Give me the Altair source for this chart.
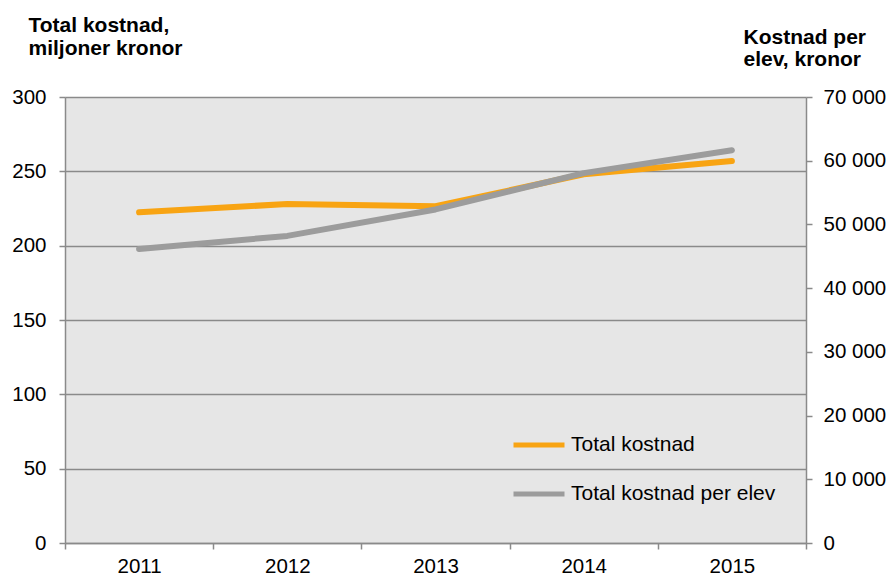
import altair as alt
import pandas as pd

years = ["2011", "2012", "2013", "2014", "2015"]
total_kostnad = [222.5, 228, 226.5, 248, 257]
kostnad_per_elev = [46150, 48200, 52350, 58050, 61650]
left_ticks = [0, 50, 100, 150, 200, 250, 300]
right_ticks = [0, 10000, 20000, 30000, 40000, 50000, 60000, 70000]
series_names = ["Total kostnad", "Total kostnad per elev"]
series_colors = ["#F8A413", "#9C9C9C"]

df = pd.DataFrame({"year": years, "total": total_kostnad, "per_elev": kostnad_per_elev})

FONT = "Liberation Sans"
AXIS_COLOR = "#8A8A8A"

color_scale = alt.Scale(domain=series_names, range=series_colors)

x_enc = alt.X(
    "year:O",
    scale=alt.Scale(paddingInner=0, paddingOuter=0),
    axis=alt.Axis(
        title=None, labelAngle=0, tickBand="extent", tickSize=6,
        labelBaseline="alphabetic", labelPadding=23, labelFontSize=20.5,
        domain=True, grid=False,
    ),
)

left = alt.Chart(df).transform_calculate(serie=f"'{series_names[0]}'").mark_line(
    strokeWidth=6, strokeCap="round", strokeJoin="round"
).encode(
    x=x_enc,
    y=alt.Y(
        "total:Q",
        scale=alt.Scale(domain=[0, 300], nice=False, zero=True),
        axis=alt.Axis(
            values=left_ticks, orient="left", grid=True, gridColor=AXIS_COLOR, gridOpacity=1,
            tickSize=6, labelPadding=13, labelFontSize=20.5,
            title=["Total kostnad,", "miljoner kronor"], titleAngle=0,
            titleX=-37, titleY=-66, titleAlign="left", titleBaseline="alphabetic",
            titleFontSize=21, titleFontWeight="bold", titleLineHeight=23,
        ),
    ),
    color=alt.Color("serie:N", scale=color_scale, legend=alt.Legend(title=None)),
)

right = alt.Chart(df).transform_calculate(serie=f"'{series_names[1]}'").mark_line(
    strokeWidth=6, strokeCap="round", strokeJoin="round"
).encode(
    x=x_enc,
    y=alt.Y(
        "per_elev:Q",
        scale=alt.Scale(domain=[0, 70000], nice=False, zero=True),
        axis=alt.Axis(
            values=right_ticks, orient="right", grid=False,
            tickSize=6, labelPadding=11, labelFontSize=20.5,
            labelExpr="replace(format(datum.value, ','), ',', ' ')",
            title=["Kostnad per", "elev, kronor"], titleAngle=0,
            titleX=-63, titleY=-54, titleAlign="left", titleBaseline="alphabetic",
            titleFontSize=21, titleFontWeight="bold", titleLineHeight=22,
        ),
    ),
    color=alt.Color("serie:N", scale=color_scale, legend=alt.Legend(title=None)),
)

chart = (
    alt.layer(left, right)
    .resolve_scale(y="independent")
    .properties(
        width=741, height=446,
        autosize=alt.AutoSizeParams(type="none"),
        padding={"left": 57, "top": 89, "right": 80, "bottom": 35},
        background="white",
    )
    .configure_view(fill="#E6E6E6", stroke=None)
    .configure_axis(
        domainColor=AXIS_COLOR, tickColor=AXIS_COLOR, domainWidth=1.5, tickWidth=1.5,
        gridWidth=1.5, labelColor="black", titleColor="black",
        labelFont=FONT, titleFont=FONT,
    )
    .configure_legend(
        orient="none", legendX=446, legendY=320, padding=0,
        symbolType="stroke", symbolSize=2601, symbolStrokeWidth=5,
        labelFontSize=21, labelFont=FONT, labelColor="black", labelOffset=4,
        rowPadding=11, labelLimit=400,
    )
)

chart.save("out.html", embed_options={"renderer": "svg", "actions": False})
